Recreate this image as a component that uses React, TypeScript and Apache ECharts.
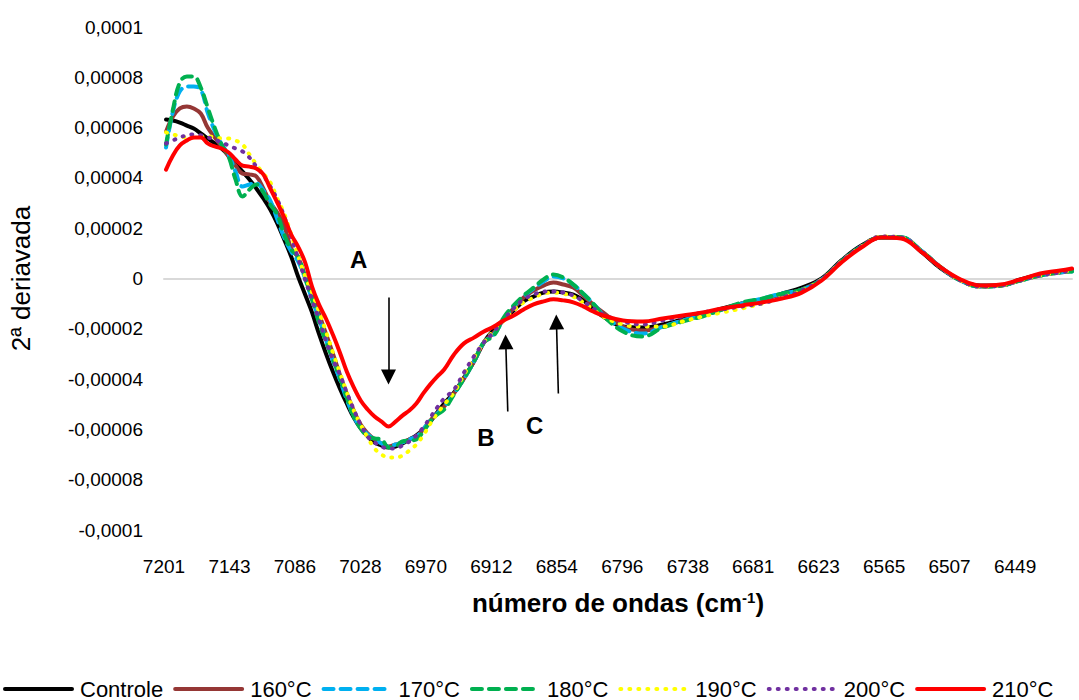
import React, { useEffect, useRef } from "react";
import * as echarts from "echarts";

// Wavenumber grid (cm-1) shared by all spectra
const WAVENUMBERS = [
  7199.5, 7193.4, 7187.3, 7181.1, 7175.0, 7168.8, 7162.7, 7156.5, 7150.4, 7144.2,
  7138.1, 7131.9, 7125.8, 7119.7, 7113.5, 7107.4, 7101.2, 7095.1, 7088.9, 7082.8,
  7076.6, 7070.5, 7064.4, 7058.2, 7052.1, 7045.9, 7039.8, 7033.6, 7027.5, 7021.3,
  7015.2, 7009.0, 7002.9, 6996.7, 6990.6, 6984.5, 6978.3, 6972.2, 6966.0, 6959.9,
  6953.7, 6945.0, 6936.2, 6927.4, 6918.6, 6909.8, 6901.1, 6892.3, 6883.5, 6874.7,
  6865.9, 6857.2, 6848.4, 6839.6, 6830.8, 6822.1, 6813.3, 6795.7, 6778.2, 6760.6,
  6743.0, 6725.5, 6707.9, 6690.4, 6672.8, 6655.3, 6637.7, 6620.1, 6602.6, 6585.0,
  6567.5, 6549.9, 6532.3, 6514.8, 6497.2, 6479.7, 6462.1, 6444.6, 6427.0, 6409.4,
  6398.9,
];

// Second-derivative values, in units of 1e-5
const Y_UNIT = 1e-5;

const CONTROLE = [
  6.32, 6.28, 6.2, 6.08, 5.96, 5.77, 5.57, 5.37, 5.17, 4.89,
  4.57, 4.25, 3.94, 3.58, 3.18, 2.74, 2.19, 1.55, 0.87, 0.08,
  -0.64, -1.35, -2.19, -2.98, -3.7, -4.37, -4.97, -5.53, -5.96, -6.28,
  -6.52, -6.64, -6.72, -6.68, -6.56, -6.4, -6.24, -6.0, -5.69, -5.33,
  -4.97, -4.53, -3.94, -3.3, -2.54, -2.03, -1.63, -1.27, -0.91, -0.72,
  -0.56, -0.52, -0.56, -0.64, -0.87, -1.19, -1.51, -1.91, -1.95, -1.83,
  -1.63, -1.43, -1.19, -0.99, -0.83, -0.6, -0.36, 0, 0.72, 1.31,
  1.63, 1.63, 1.07, 0.4, -0.08, -0.28, -0.28, -0.04, 0.16, 0.28,
  0.36,
];

const T160 = [
  5.84, 6.44, 6.76, 6.84, 6.76, 6.56, 6.0, 5.61, 5.25, 4.85,
  4.49, 4.17, 4.14, 4.06, 3.58, 3.02, 2.62, 2.11, 1.19, 0.84,
  0.08, -0.56, -1.39, -2.19, -2.98, -3.82, -4.57, -5.25, -5.81, -6.16,
  -6.4, -6.56, -6.68, -6.6, -6.52, -6.4, -6.28, -6.0, -5.65, -5.37,
  -5.09, -4.57, -3.98, -3.3, -2.54, -2.15, -1.63, -1.19, -0.76, -0.48,
  -0.28, -0.16, -0.24, -0.36, -0.68, -1.03, -1.35, -1.91, -2.07, -1.91,
  -1.67, -1.47, -1.23, -0.99, -0.83, -0.64, -0.44, -0.04, 0.68, 1.27,
  1.63, 1.63, 1.11, 0.44, -0.08, -0.32, -0.28, -0.08, 0.12, 0.24,
  0.32,
];

const T170 = [
  5.21, 6.64, 7.44, 7.63, 7.63, 7.51, 6.6, 5.88, 5.33, 4.93,
  4.25, 3.66, 3.74, 3.78, 3.5, 3.1, 2.35, 1.63, 1.07, 0.68,
  0, -0.83, -1.59, -2.43, -3.26, -4.02, -4.81, -5.49, -5.92, -6.2,
  -6.4, -6.56, -6.68, -6.6, -6.52, -6.4, -6.28, -6.0, -5.65, -5.37,
  -5.09, -4.57, -3.98, -3.3, -2.54, -2.23, -1.63, -1.11, -0.72, -0.4,
  -0.12, 0.08, 0, -0.24, -0.6, -0.99, -1.43, -1.99, -2.19, -1.91,
  -1.67, -1.47, -1.23, -0.99, -0.8, -0.6, -0.44, -0.04, 0.68, 1.27,
  1.63, 1.63, 1.11, 0.44, -0.08, -0.32, -0.28, -0.08, 0.12, 0.24,
  0.28,
];

const T180 = [
  5.33, 6.72, 7.79, 8.03, 8.03, 7.59, 6.8, 6.0, 5.33, 4.85,
  3.94, 3.26, 3.54, 3.74, 3.42, 2.94, 2.54, 1.75, 1.15, 0.87,
  0.04, -0.83, -1.75, -2.51, -3.22, -3.94, -4.73, -5.49, -5.96, -6.28,
  -6.36, -6.4, -6.72, -6.68, -6.48, -6.44, -6.4, -6.08, -5.69, -5.41,
  -5.21, -4.61, -3.98, -3.3, -2.54, -2.27, -1.55, -1.07, -0.68, -0.36,
  -0.04, 0.16, 0.04, -0.24, -0.6, -0.99, -1.47, -2.11, -2.31, -1.95,
  -1.71, -1.51, -1.23, -0.95, -0.8, -0.6, -0.44, -0.04, 0.68, 1.27,
  1.63, 1.63, 1.11, 0.44, -0.08, -0.32, -0.28, -0.08, 0.12, 0.24,
  0.28,
];

const T190 = [
  5.81, 5.73, 5.65, 5.61, 5.61, 5.65, 5.65, 5.61, 5.57, 5.57,
  5.49, 5.33, 4.93, 4.53, 4.17, 3.82, 3.18, 2.58, 1.75, 0.91,
  0.08, -0.56, -1.31, -2.11, -2.94, -3.74, -4.53, -5.25, -5.81, -6.32,
  -6.76, -7.0, -7.12, -7.12, -7.04, -6.84, -6.6, -6.24, -5.77, -5.37,
  -5.01, -4.53, -3.82, -3.14, -2.54, -2.07, -1.67, -1.27, -0.95, -0.76,
  -0.6, -0.56, -0.6, -0.72, -0.95, -1.23, -1.51, -1.83, -1.91, -1.91,
  -1.71, -1.51, -1.35, -1.19, -0.99, -0.76, -0.48, -0.04, 0.68, 1.27,
  1.67, 1.63, 1.11, 0.44, -0.08, -0.32, -0.28, -0.08, 0.12, 0.24,
  0.32,
];

const T200 = [
  5.37, 5.49, 5.61, 5.69, 5.73, 5.69, 5.61, 5.53, 5.41, 5.29,
  5.17, 5.05, 4.81, 4.45, 4.1, 3.66, 3.14, 2.47, 1.63, 0.8,
  -0.04, -0.87, -1.63, -2.47, -3.22, -3.82, -4.53, -5.21, -5.81, -6.28,
  -6.52, -6.68, -6.76, -6.76, -6.64, -6.48, -6.24, -5.92, -5.53, -5.13,
  -4.77, -4.41, -3.74, -3.1, -2.54, -2.11, -1.63, -1.19, -0.83, -0.64,
  -0.52, -0.52, -0.56, -0.68, -0.91, -1.19, -1.43, -1.71, -1.83, -1.67,
  -1.51, -1.35, -1.23, -1.11, -0.99, -0.76, -0.48, -0.04, 0.68, 1.27,
  1.67, 1.63, 1.11, 0.44, -0.08, -0.32, -0.28, -0.08, 0.12, 0.24,
  0.32,
];

const T210 = [
  4.33, 4.89, 5.29, 5.49, 5.61, 5.61, 5.37, 5.25, 5.17, 5.01,
  4.73, 4.49, 4.45, 4.37, 4.14, 3.58, 3.02, 2.43, 1.75, 1.27,
  0.64, -0.32, -1.03, -1.59, -2.23, -2.94, -3.7, -4.33, -4.85, -5.21,
  -5.49, -5.69, -5.88, -5.69, -5.45, -5.25, -4.97, -4.57, -4.21, -3.9,
  -3.62, -3.02, -2.58, -2.35, -2.11, -1.91, -1.67, -1.47, -1.23, -1.03,
  -0.91, -0.83, -0.87, -0.95, -1.11, -1.31, -1.47, -1.67, -1.71, -1.59,
  -1.47, -1.35, -1.19, -1.07, -0.95, -0.8, -0.56, -0.08, 0.64, 1.23,
  1.63, 1.59, 1.07, 0.44, -0.04, -0.28, -0.24, -0.04, 0.2, 0.32,
  0.4,
];

const SERIES_NAMES = ["Controle", "160°C", "170°C", "180°C", "190°C", "200°C", "210°C"];
const SERIES_VALUES = [CONTROLE, T160, T170, T180, T190, T200, T210];

// X axis tick positions and their labels
const TICK_WAVENUMBERS = [
  7201.3, 7143.4, 7085.6, 7027.7, 6969.9, 6912.0, 6854.2,
  6796.3, 6738.4, 6680.6, 6622.8, 6564.9, 6507.1, 6449.2,
];
const TICK_LABELS = [
  "7201", "7143", "7086", "7028", "6970", "6912", "6854",
  "6796", "6738", "6681", "6623", "6565", "6507", "6449",
];
const X_MIN = 6398.9;
const X_MAX = 7201.3;

const Y_MIN = -0.0001;
const Y_MAX = 0.0001;
const Y_STEP = 0.00002;

// Annotation letters and arrows (wavenumber, value in 1e-5 units)
const NOTE_LABELS = ["A", "B", "C"];
const NOTE_POSITIONS: [number, number][] = [
  [7029.2, 0.76],
  [6916.9, -6.32],
  [6873.8, -5.85],
];
const ARROW_TAILS: [number, number][] = [
  [7002.9, -0.76],
  [6897.5, -5.29],
  [6852.8, -4.57],
];
const ARROW_HEADS: [number, number][] = [
  [7002.9, -3.92],
  [6899.3, -2.52],
  [6854.5, -1.73],
];

const FONT = 'Arial, "Liberation Sans", sans-serif';

const DASHED = [10, 7];
const DOTTED = [1, 8];
const LINE_STYLES = [
  { color: "#000000", type: "solid" as any },
  { color: "#953735", type: "solid" as any },
  { color: "#00B0F0", type: DASHED as any },
  { color: "#00B050", type: DASHED as any },
  { color: "#FFFF00", type: DOTTED as any },
  { color: "#7030A0", type: DOTTED as any },
  { color: "#FF0000", type: "solid" as any },
];

function formatY(v: number): string {
  const r = parseFloat(v.toFixed(6));
  if (r === 0) return "0";
  return r.toString().replace(".", ",");
}

function tickLabel(v: number): string {
  let best = 0;
  for (let i = 1; i < TICK_WAVENUMBERS.length; i++) {
    if (Math.abs(TICK_WAVENUMBERS[i] - v) < Math.abs(TICK_WAVENUMBERS[best] - v)) best = i;
  }
  return TICK_LABELS[best];
}

function buildOption(): echarts.EChartsOption {
  const spectra = SERIES_NAMES.map((name, s) => ({
    name,
    type: "line" as const,
    xAxisIndex: 0,
    yAxisIndex: 0,
    symbol: "none",
    smooth: 0.4,
    data: WAVENUMBERS.map((wn, i) => [wn, SERIES_VALUES[s][i] * Y_UNIT]),
    color: LINE_STYLES[s].color,
    itemStyle: { color: LINE_STYLES[s].color, opacity: 0 },
    lineStyle: {
      color: LINE_STYLES[s].color,
      width: 4,
      type: LINE_STYLES[s].type,
      cap: "round" as const,
    },
    z: 2 + s,
  }));

  const notes = {
    name: "notes",
    type: "line" as const,
    xAxisIndex: 0,
    yAxisIndex: 0,
    data: [],
    symbol: "none",
    z: 20,
    markLine: {
      silent: true,
      symbol: ["none", "triangle"],
      symbolSize: 15,
      lineStyle: { color: "#000", width: 1.6, type: "solid" as const },
      itemStyle: { color: "#000" },
      label: { show: false },
      emphasis: { disabled: true },
      data: ARROW_TAILS.map((t, i) => [
        { coord: [t[0], t[1] * Y_UNIT] },
        { coord: [ARROW_HEADS[i][0], ARROW_HEADS[i][1] * Y_UNIT] },
      ]) as any,
    },
    markPoint: {
      silent: true,
      symbol: "rect",
      symbolSize: 1,
      itemStyle: { color: "rgba(0,0,0,0)" },
      label: {
        show: true,
        position: "inside",
        formatter: "{b}",
        fontSize: 24,
        fontWeight: "bold",
        color: "#000",
        fontFamily: FONT,
      },
      data: NOTE_LABELS.map((label, i) => ({
        name: label,
        coord: [NOTE_POSITIONS[i][0], NOTE_POSITIONS[i][1] * Y_UNIT],
      })),
    },
  };

  return {
    animation: false,
    backgroundColor: "#ffffff",
    textStyle: { fontFamily: FONT },
    grid: { left: 158, right: 7, top: 27, bottom: 170, containLabel: false },
    legend: {
      data: SERIES_NAMES,
      left: -2,
      top: 673,
      itemWidth: 67,
      itemHeight: 14,
      itemGap: 10,
      itemStyle: { opacity: 0 },
      lineStyle: { width: 4, cap: "round" },
      textStyle: { fontSize: 22, color: "#000", fontFamily: FONT, padding: [0, 0, 0, 3] },
    } as any,
    xAxis: [
      {
        type: "value",
        inverse: true,
        min: X_MIN,
        max: X_MAX,
        position: "bottom",
        axisLine: { show: false, onZero: false },
        axisTick: { show: false },
        splitLine: { show: false },
        axisLabel: {
          customValues: TICK_WAVENUMBERS,
          formatter: (v: number) => tickLabel(v),
          fontSize: 19,
          color: "#000",
          fontFamily: FONT,
          margin: 27,
        } as any,
        name: "{t|número de ondas (cm}{s|-1}{t|)}",
        nameLocation: "middle",
        nameGap: 60,
        nameTextStyle: {
          rich: {
            t: { fontSize: 26, fontWeight: "bold", color: "#000", fontFamily: FONT },
            s: { fontSize: 15, fontWeight: "bold", color: "#000", fontFamily: FONT, verticalAlign: "top" },
          },
        } as any,
      },
      {
        type: "value",
        inverse: true,
        min: X_MIN,
        max: X_MAX,
        position: "bottom",
        axisLine: { show: true, onZero: true, lineStyle: { color: "#d9d9d9", width: 2 } },
        axisTick: { show: false },
        axisLabel: { show: false },
        splitLine: { show: false },
      },
    ],
    yAxis: {
      type: "value",
      min: Y_MIN,
      max: Y_MAX,
      interval: Y_STEP,
      axisLine: { show: false },
      axisTick: { show: false },
      splitLine: { show: false },
      axisLabel: {
        formatter: (v: number) => formatY(v),
        fontSize: 19,
        color: "#000",
        fontFamily: FONT,
        margin: 21,
      },
      name: "2ª deriavada",
      nameLocation: "middle",
      nameGap: 130,
      nameRotate: 90,
      nameTextStyle: { fontSize: 26, color: "#000", fontFamily: FONT },
    },
    series: [...spectra, notes] as any,
  };
}

export default function App() {
  const ref = useRef<HTMLDivElement>(null);
  useEffect(() => {
    if (!ref.current) return;
    const chart = echarts.init(ref.current, undefined, { renderer: "svg" });
    chart.setOption(buildOption());
    return () => chart.dispose();
  }, []);
  return (
    <div
      ref={ref}
      style={{ position: "absolute", left: 0, top: 0, width: 1079, height: 700, background: "#fff" }}
    />
  );
}
